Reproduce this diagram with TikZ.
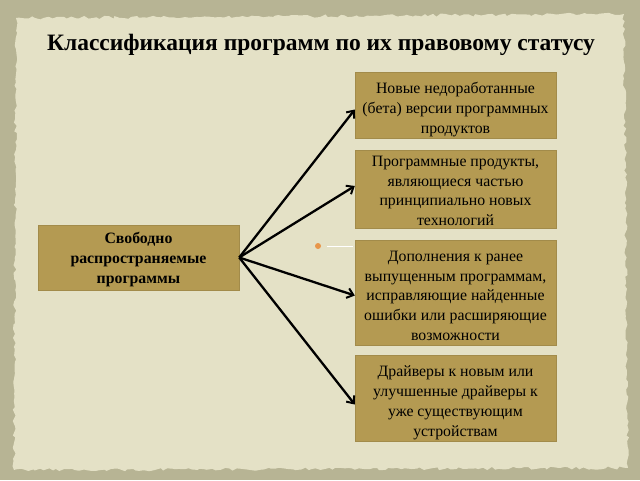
\documentclass[tikz,border=0pt]{standalone}
\usepackage{fontspec}
\setmainfont{Liberation Serif}
\usetikzlibrary{arrows.meta, decorations.pathmorphing, positioning}
\definecolor{outerbg}{HTML}{B7B494}
\definecolor{paper}{HTML}{E4E1C6}
\definecolor{boxfill}{HTML}{B49A52}
\definecolor{dotcol}{HTML}{E8964A}
\newcommand{\topgap}[1]{\rule{0pt}{#1}}
\tikzset{> = { Straight Barb[length = 6pt, width = 10pt, line width = 2pt] }}
\tikzset{
	kind/.style = {draw = boxfill!90!black, line width = 0.4pt, fill = boxfill, align = center,
		minimum width = 201pt, inner sep = 2pt, font = \fontsize{15.8}{19.8}\selectfont},
	link/.style = {->, line width = 2.3pt, black}
}

\begin{document}
\begin{tikzpicture}[x = 1pt, y = -1pt]
	\useasboundingbox (0, 0) rectangle (640, 480);
	\fill [outerbg] (0, 0) rectangle (640, 480);
	\fill [paper, decorate, decoration = {random steps, segment length = 4pt, amplitude = 1.6pt}]
		(16, 18) -- (624, 14) -- (628, 468) -- (14, 470) -- cycle;

	\node (title) at (321, 45) {\fontsize{23.5}{26}\selectfont\bfseries Классификация программ по их правовому статусу};

	\node [kind, minimum height = 65pt, font = \fontsize{15.8}{19.8}\selectfont\bfseries] (free) at (138.5, 257.5) {\topgap{15pt}Свободно\\распространяемые\\программы};

	\node [kind, minimum height = 65pt] (beta) at (455.5, 105.5) {\topgap{19pt}Новые недоработанные\\(бета) версии программных\\продуктов};
	\node [kind, minimum height = 78pt, inner ysep = 0pt] (newtech) at (455.5, 189) {\topgap{14pt}Программные продукты,\\являющиеся частью\\принципиально новых\\технологий};
	\node [kind, minimum height = 105pt] (patches) at (455.5, 292.5) {\topgap{17pt}Дополнения к ранее\\выпущенным программам,\\исправляющие найденные\\ошибки или расширяющие\\возможности};
	\node [kind, minimum height = 85pt] (drivers) at (455.5, 398.5) {\topgap{19pt}Драйверы к новым или\\улучшенные драйверы к\\уже существующим\\устройствам};

	% leftover bullet of the slide
	\fill [dotcol] (318, 246) circle (3);
	\draw [white, line width = 1pt] (327, 246) -- (353, 246);

	\draw [link] (free.east) -- ([yshift = -4pt]beta.west);
	\draw [link] (free.east) -- ([yshift = 3pt]newtech.west);
	\draw [link] (free.east) -- ([yshift = -3pt]patches.west);
	\draw [link] (free.east) -- ([yshift = -6pt]drivers.west);
\end{tikzpicture}
\end{document}
